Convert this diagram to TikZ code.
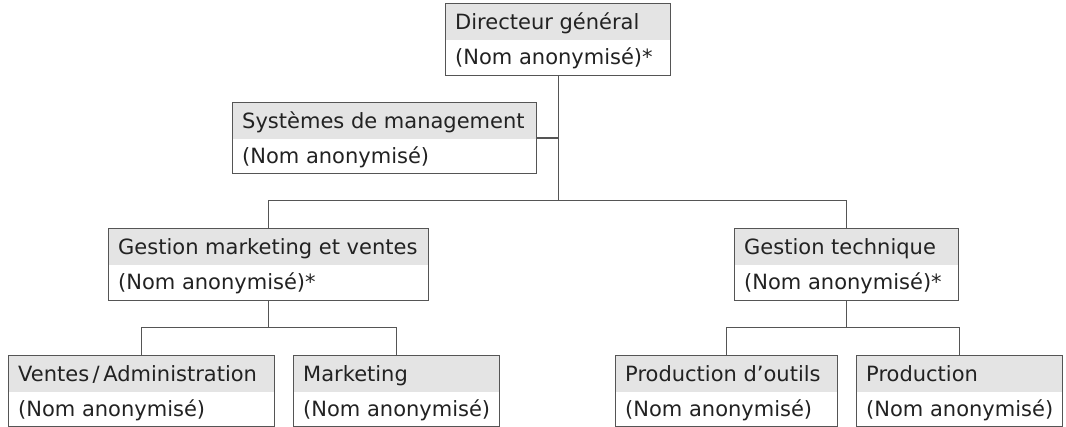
\documentclass[tikz,border=0pt]{standalone}
\usepackage{fontspec}
\setmainfont{DejaVu Sans}
\usetikzlibrary{calc}
\definecolor{band}{HTML}{E4E4E4}
\definecolor{edge}{HTML}{555555}
\definecolor{ink}{HTML}{222222}
\tikzset{
  orgbox/.style={draw=edge, line width=1.1pt, fill=white, inner sep=0pt, anchor=north west,
    path picture={\fill[band] (path picture bounding box.north west) rectangle ([yshift=-36.5pt]path picture bounding box.north east);}},
  txt/.style={anchor=base west, inner sep=0pt, text=ink, font=\fontsize{21}{25}\selectfont},
  link/.style={draw=edge, line width=1.1pt}
}
\newcommand{\orgunit}[7]{%
  \node[orgbox, minimum width=#4pt-#2pt, minimum height=#5pt-#3pt] (#1) at (#2,#3) {};
  \node[txt] (#1t) at ($(#1.north west)+(10,27)$) {#6};
  \node[txt] (#1s) at ($(#1.north west)+(10,62)$) {#7};
}
\begin{document}
\begin{tikzpicture}[x=1pt,y=-1pt]
\useasboundingbox (0,0) rectangle (1066,427);
\orgunit{dg}{445}{3}{670}{75}{Directeur général}{(Nom anonymisé)*}
\orgunit{sm}{232}{102}{536}{173}{Systèmes de management}{(Nom anonymisé)}
\orgunit{gmv}{108}{228}{428}{300}{Gestion marketing et ventes}{(Nom anonymisé)*}
\orgunit{gt}{734}{228}{958}{300}{Gestion technique}{(Nom anonymisé)*}
\orgunit{va}{8}{355}{274}{426}{Ventes\,/\,Administration}{(Nom anonymisé)}
\orgunit{mk}{293}{355}{499}{426}{Marketing}{(Nom anonymisé)}
\orgunit{po}{615}{355}{837}{426}{Production d’outils}{(Nom anonymisé)}
\orgunit{pr}{856}{355}{1062}{426}{Production}{(Nom anonymisé)}
\coordinate (busA) at (0,200.5);
\coordinate (busB) at (0,327.5);
\draw[link] (dg.south) -- (dg.south |- busA);
\draw[link] (sm.east) -- (sm.east -| dg.south);
\draw[link] (gmv.north) |- (gt.north |- busA) -- (gt.north);
\draw[link] (gmv.south) -- (gmv.south |- busB);
\draw[link] (va.north) |- (mk.north |- busB) -- (mk.north);
\draw[link] (gt.south) -- (gt.south |- busB);
\draw[link] (po.north) |- (pr.north |- busB) -- (pr.north);
\end{tikzpicture}
\end{document}
